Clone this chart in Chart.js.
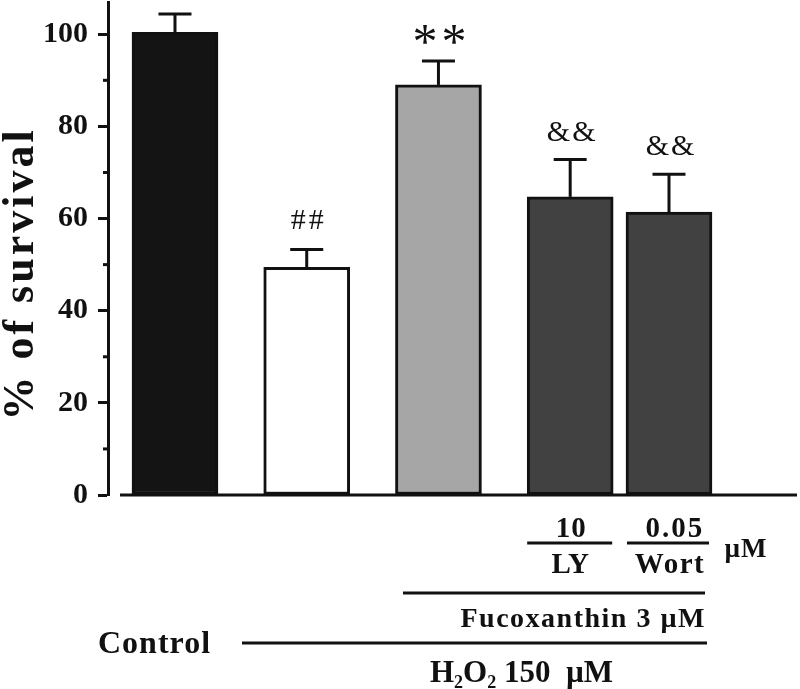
<!DOCTYPE html>
<html>
<head>
<meta charset="utf-8">
<script src="https://cdn.jsdelivr.net/npm/chart.js@4.4.1/dist/chart.umd.min.js"></script>
<style>html,body{margin:0;padding:0;background:#fff}</style>
</head>
<body>
<canvas id="ch" width="800" height="689"></canvas>
<script>
// data
const groups = ['Control', 'H2O2', 'Fucoxanthin', 'Fuco + LY', 'Fuco + Wort']
const survival = [100.4, 49.4, 89.0, 64.7, 61.4]
const sem = [4.0, 3.9, 5.2, 8.1, 8.2]
const marks = ['', '##', '**', '&&', '&&']
const yTicks = [0, 20, 40, 60, 80, 100]
const yMinor = [10, 30, 50, 70, 90]

// layout: bar slots on a linear x axis (last two bars sit closer)
const slot = [0, 4, 8, 12, 15]
const fills = ['#141414', '#ffffff', '#a6a6a6', '#414141', '#414141']
const INK = '#111'
const SERIF = '"Liberation Serif", "Times New Roman", serif'

function line(ctx, x1, y1, x2, y2){ ctx.beginPath(); ctx.moveTo(x1, y1); ctx.lineTo(x2, y2); ctx.stroke() }
function txt(ctx, s, x, y, font, align, spacing){
  ctx.font = font; ctx.textAlign = align || 'left'; ctx.letterSpacing = (spacing || 0) + 'px'
  ctx.fillText(s, x, y); ctx.letterSpacing = '0px'
}

const extras = {
  id: 'extras',
  afterDatasetsDraw(chart){
    const { ctx, scales: { x, y } } = chart
    ctx.save()
    ctx.strokeStyle = INK; ctx.fillStyle = INK; ctx.lineWidth = 3
    ctx.textBaseline = 'alphabetic'
    const y0 = y.getPixelForValue(0)
    // x axis line (detached from the y axis)
    line(ctx, 120, y0, 797, y0)
    // minor ticks
    yMinor.forEach(v => { const py = y.getPixelForValue(v); line(ctx, 103, py, 108, py) })

    // error bars + significance marks
    survival.forEach((v, i) => {
      const px = x.getPixelForValue(slot[i])
      const top = y.getPixelForValue(v + sem[i])
      line(ctx, px, y.getPixelForValue(v), px, top)
      line(ctx, px - 16.5, top, px + 16.5, top)
      const m = marks[i]
      if(!m) return
      if(m === '**') txt(ctx, m, px + 3, top - 3, '50px ' + SERIF, 'center', 4)
      else if(m === '##') txt(ctx, m, px + 2, top - 20, '30px ' + SERIF, 'center', 3)
      else txt(ctx, m, px + 2, top - 19, '30px ' + SERIF, 'center', 2)
    })

    // y title
    ctx.save()
    ctx.translate(33, 276); ctx.rotate(-Math.PI / 2)
    txt(ctx, '% of survival', 2, 0, 'bold 44px ' + SERIF, 'center', 3)
    ctx.restore()

    // treatment labels under the axis
    const cLY = x.getPixelForValue(slot[3]), cW = x.getPixelForValue(slot[4])
    const B28 = 'bold 29px ' + SERIF
    txt(ctx, '10', cLY + 1, 537, B28, 'center', 1)
    line(ctx, cLY - 43, 543, cLY + 42, 543)
    txt(ctx, 'LY', cLY, 573, B28, 'center', 0)
    txt(ctx, '0.05', cW + 6, 537, B28, 'center', 2)
    line(ctx, cW - 42, 543, cW + 40, 543)
    txt(ctx, 'Wort', cW + 1, 573, B28, 'center', 1.5)
    txt(ctx, 'µM', 746, 557, 'bold 27px ' + SERIF, 'center', 1)

    line(ctx, 403, 593, 705, 593)
    txt(ctx, 'Fucoxanthin 3 µM', 706, 627, 'bold 28px ' + SERIF, 'right', 1.5)

    line(ctx, 242, 643, 707, 643)
    txt(ctx, 'Control', 98, 653, 'bold 32px ' + SERIF, 'left', 1)

    // H2O2 150 µM with subscripts
    const B30 = 'bold 31px ' + SERIF, S18 = 'bold 18px ' + SERIF
    let cx = 430
    const put = (s, f, dy) => { ctx.font = f; ctx.textAlign = 'left'; ctx.fillText(s, cx, 682 + dy); cx += ctx.measureText(s).width }
    put('H', B30, 0); put('2', S18, 6); put('O', B30, 0); put('2', S18, 6); put(' 150  µM', B30, 0)
    ctx.restore()
  }
}

new Chart(document.getElementById('ch'), {
  type: 'bar',
  data: {
    labels: groups,
    datasets: [{
      data: survival.map((v, i) => ({ x: slot[i], y: v })),
      backgroundColor: fills,
      borderColor: INK,
      borderWidth: 3,
      borderSkipped: false,
      barThickness: 86
    }]
  },
  options: {
    responsive: false,
    animation: false,
    devicePixelRatio: 1,
    layout: { padding: { top: 2, right: 0, bottom: 194, left: 0 } },
    plugins: { legend: { display: false }, tooltip: { enabled: false } },
    scales: {
      x: { type: 'linear', display: false, offset: false, grid: { offset: false }, min: -2.034, max: 18.978 },
      y: {
        min: 0, max: 107,
        afterBuildTicks: s => { s.ticks = yTicks.map(v => ({ value: v })) },
        afterFit: s => { s.width = 108; s.paddingTop = 0; s.paddingBottom = 0 },
        border: { display: true, color: INK, width: 3 },
        grid: { drawOnChartArea: false, tickLength: 10, tickWidth: 3, color: INK },
        ticks: { padding: 10, color: INK, font: { family: SERIF, size: 30, weight: 'bold' } }
      }
    }
  },
  plugins: [extras]
})
</script>
</body>
</html>
